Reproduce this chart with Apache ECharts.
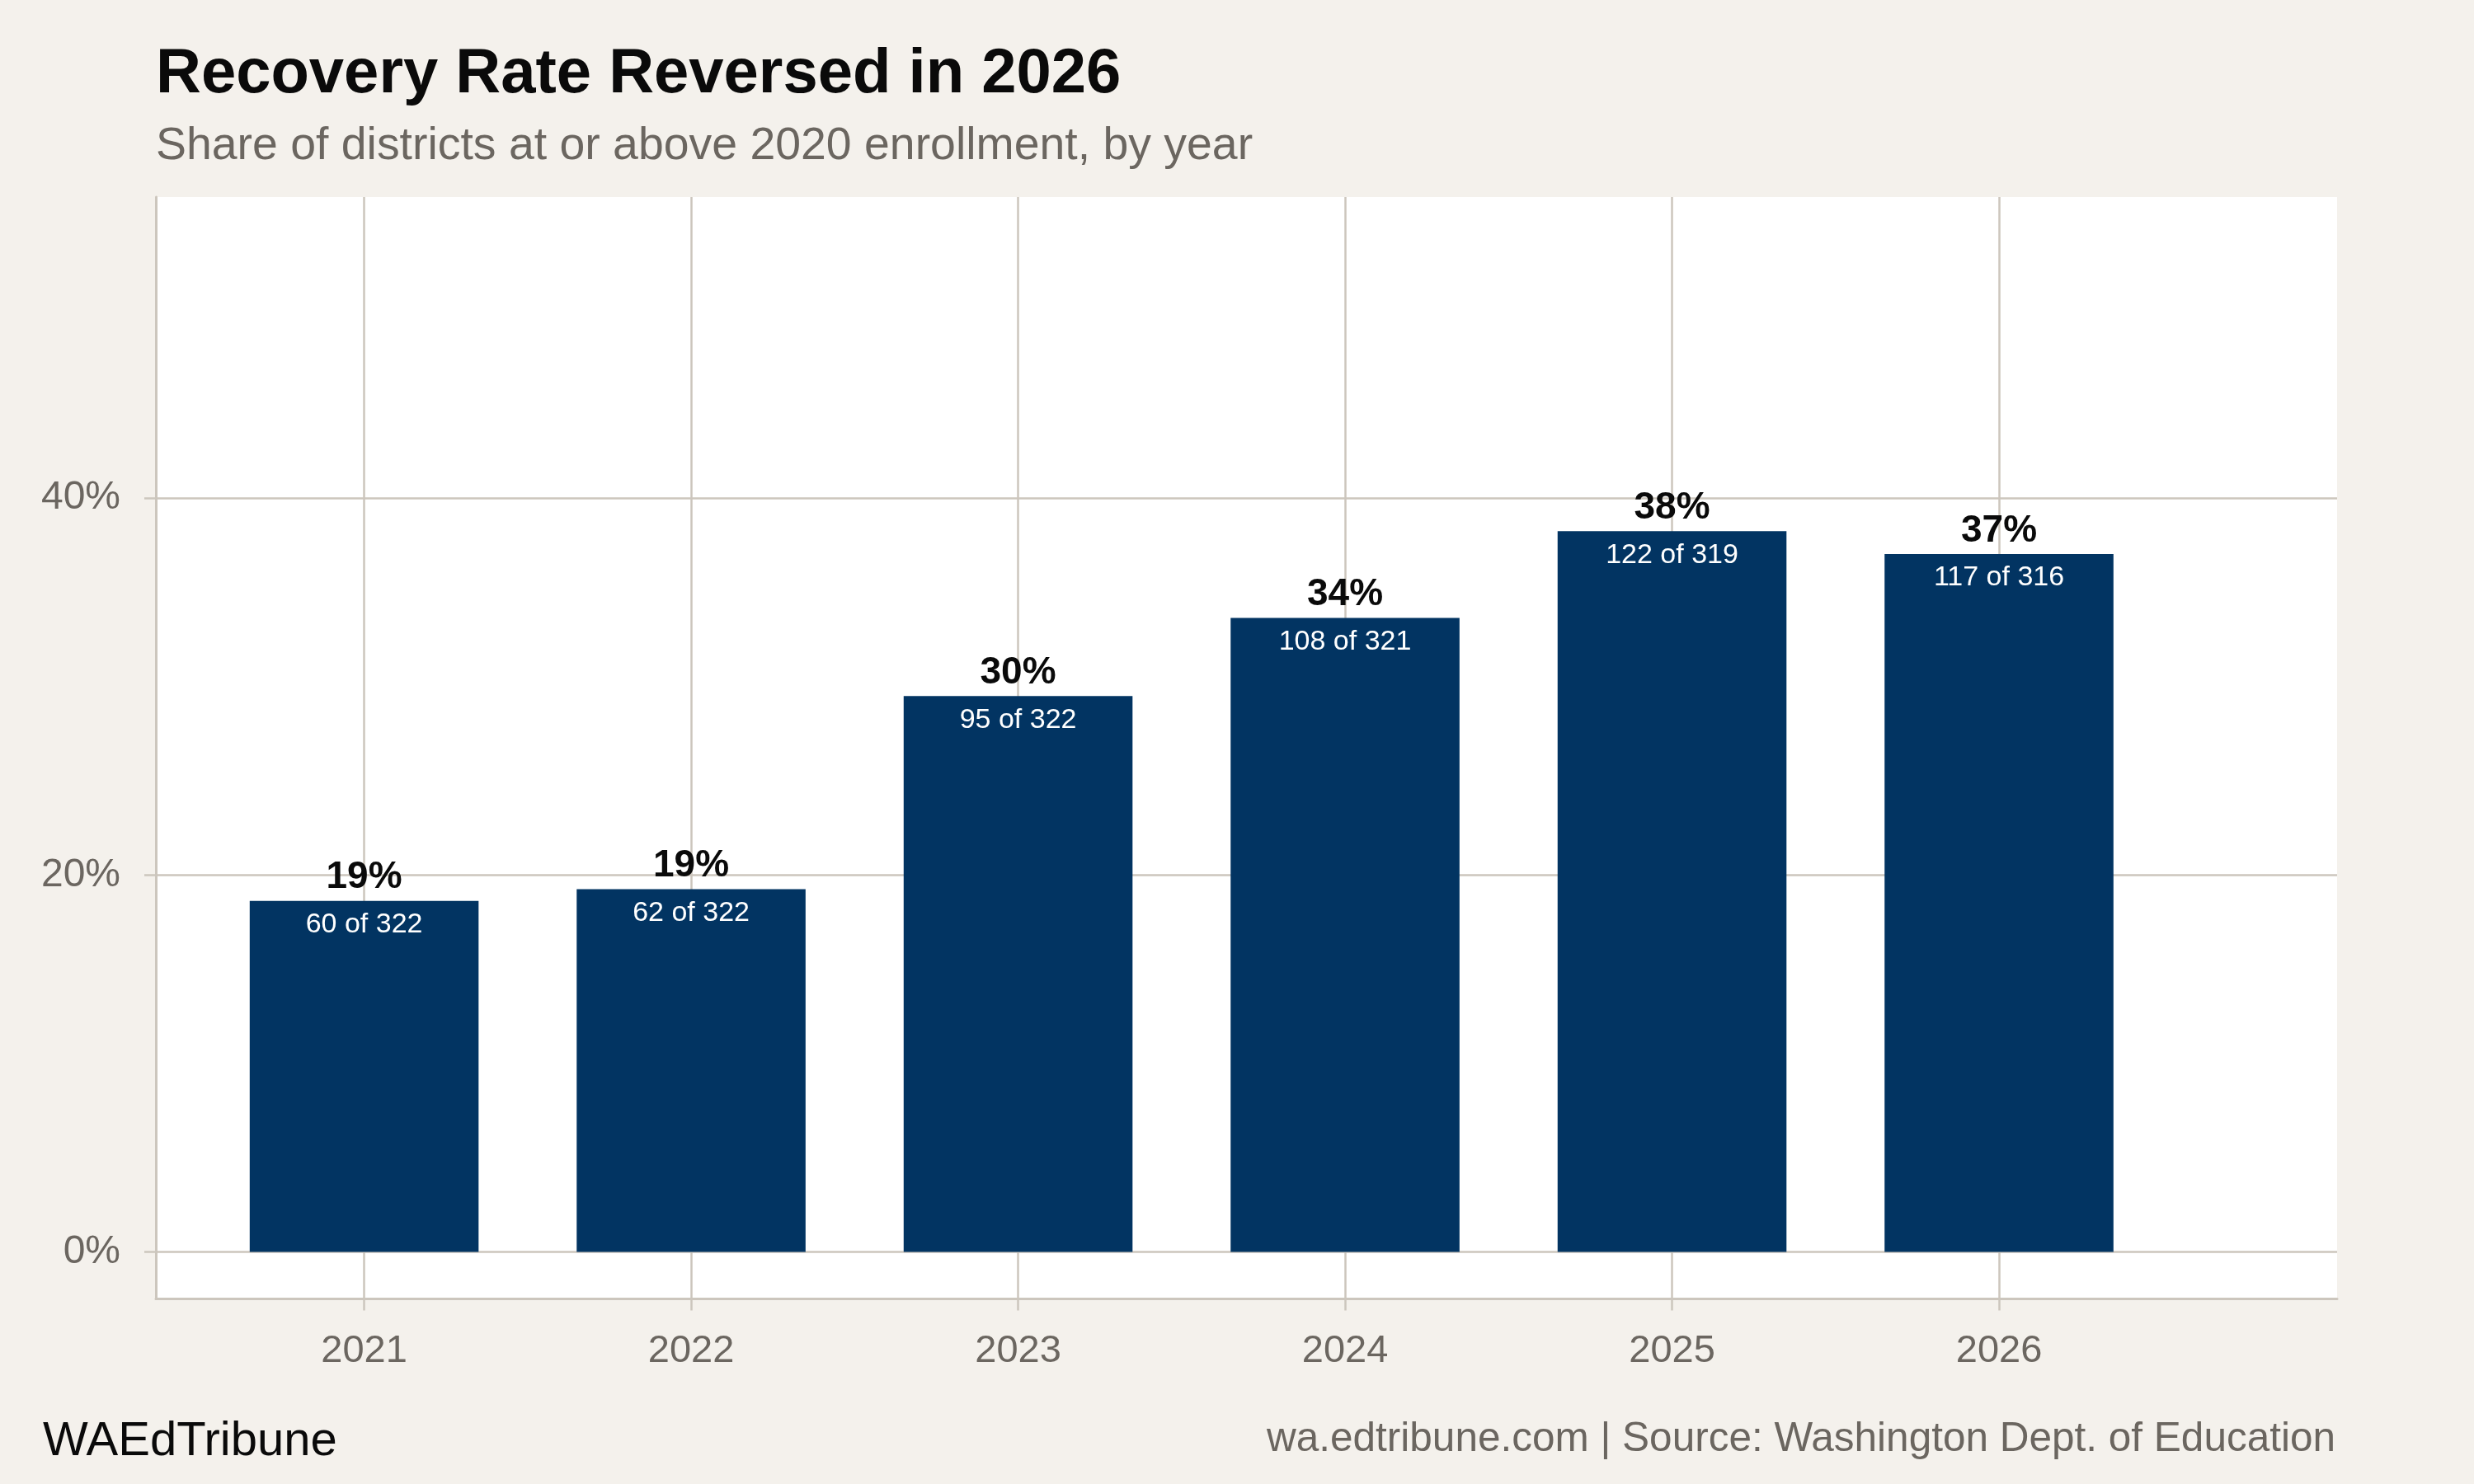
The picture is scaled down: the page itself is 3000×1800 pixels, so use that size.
<!DOCTYPE html>
<html><head><meta charset="utf-8">
<script src="https://cdn.jsdelivr.net/npm/echarts@6/dist/echarts.min.js"></script>
<style>html,body{margin:0;padding:0;background:#f4f1ec;} #c{width:3000px;height:1800px;}</style>
</head><body><div id="c"></div>
<script>
// ---- data ----
const years = [2021, 2022, 2023, 2024, 2025, 2026];
const sharePct = [18.63, 19.25, 29.50, 33.64, 38.24, 37.03];
const pctLabels = ['19%', '19%', '30%', '34%', '38%', '37%'];
const counts = [60, 62, 95, 108, 122, 117];
const totals = [322, 322, 322, 321, 319, 316];
const yTicks = [0, 20, 40];
const xTicks = [2021, 2022, 2023, 2024, 2025, 2026];

const FONT = "'Liberation Sans', Arial, Helvetica, sans-serif";
const GRIDC = '#ccc6bd';
const GRAY = '#6b6660';
const BAR = '#023462';

const barData = years.map((y, i) => [y, sharePct[i]]);
const countLabels = counts.map((c, i) => c + ' of ' + totals[i]);

const chart = echarts.init(document.getElementById('c'), null, {renderer: 'canvas'});
chart.setOption({
  backgroundColor: '#f4f1ec',
  animation: false,
  title: [
    {text: 'Recovery Rate Reversed in 2026', left: 189, top: 53, padding: 0,
     textStyle: {fontFamily: FONT, fontSize: 76, lineHeight: 76, fontWeight: 'bold', color: '#0a0a0a'}},
    {text: 'Share of districts at or above 2020 enrollment, by year', left: 189, top: 150, padding: 0,
     textStyle: {fontFamily: FONT, fontSize: 55.4, lineHeight: 56, fontWeight: 'normal', color: GRAY}},
    {text: 'WAEdTribune', left: 52, top: 1720, padding: 0,
     textStyle: {fontFamily: FONT, fontSize: 58, lineHeight: 58, fontWeight: 'normal', color: '#0a0a0a'}},
    {text: 'wa.edtribune.com | Source: Washington Dept. of Education', right: 168, top: 1721, padding: 0,
     textStyle: {fontFamily: FONT, fontSize: 49.5, lineHeight: 50, fontWeight: 'normal', color: GRAY}}
  ],
  grid: {left: 189, right: 166, top: 239, bottom: 224.5, show: true, backgroundColor: '#ffffff', borderWidth: 0, containLabel: false},
  xAxis: {
    type: 'value', min: 2020.363, max: 2027.034,
    axisLine: {show: true, onZero: false, lineStyle: {color: GRIDC, width: 3}},
    axisTick: {show: true, length: 14, customValues: xTicks, lineStyle: {color: GRIDC, width: 2.5}},
    axisLabel: {show: true, customValues: xTicks, margin: 40, formatter: v => String(v),
      fontFamily: FONT, fontSize: 47, lineHeight: 47, color: GRAY},
    splitLine: {show: true, lineStyle: {color: GRIDC, width: 2.5}}
  },
  yAxis: {
    type: 'value', min: -2.49, max: 55.97,
    axisLine: {show: true, onZero: false, lineStyle: {color: GRIDC, width: 3}},
    axisTick: {show: true, length: 14, customValues: yTicks, lineStyle: {color: GRIDC, width: 2.5}},
    axisLabel: {show: true, customValues: yTicks, margin: 43, formatter: '{value}%',
      fontFamily: FONT, fontSize: 48, lineHeight: 48, color: GRAY},
    splitLine: {show: true, lineStyle: {color: GRIDC, width: 2.5}}
  },
  series: [
    {type: 'bar', data: barData, barWidth: '70%', barGap: '-100%', z: 2,
     itemStyle: {color: BAR},
     label: {show: true, position: 'top', distance: 5,
       formatter: p => pctLabels[p.dataIndex],
       fontFamily: FONT, fontSize: 46, lineHeight: 46, fontWeight: 'bold', color: '#0a0a0a'}},
    {type: 'bar', data: barData, barWidth: '70%', barGap: '-100%', z: 3, silent: true,
     itemStyle: {color: 'rgba(0,0,0,0)'},
     label: {show: true, position: 'insideTop', distance: 12,
       formatter: p => countLabels[p.dataIndex],
       fontFamily: FONT, fontSize: 34, lineHeight: 34, fontWeight: 'normal', color: '#ffffff'}}
  ]
});
</script></body></html>
